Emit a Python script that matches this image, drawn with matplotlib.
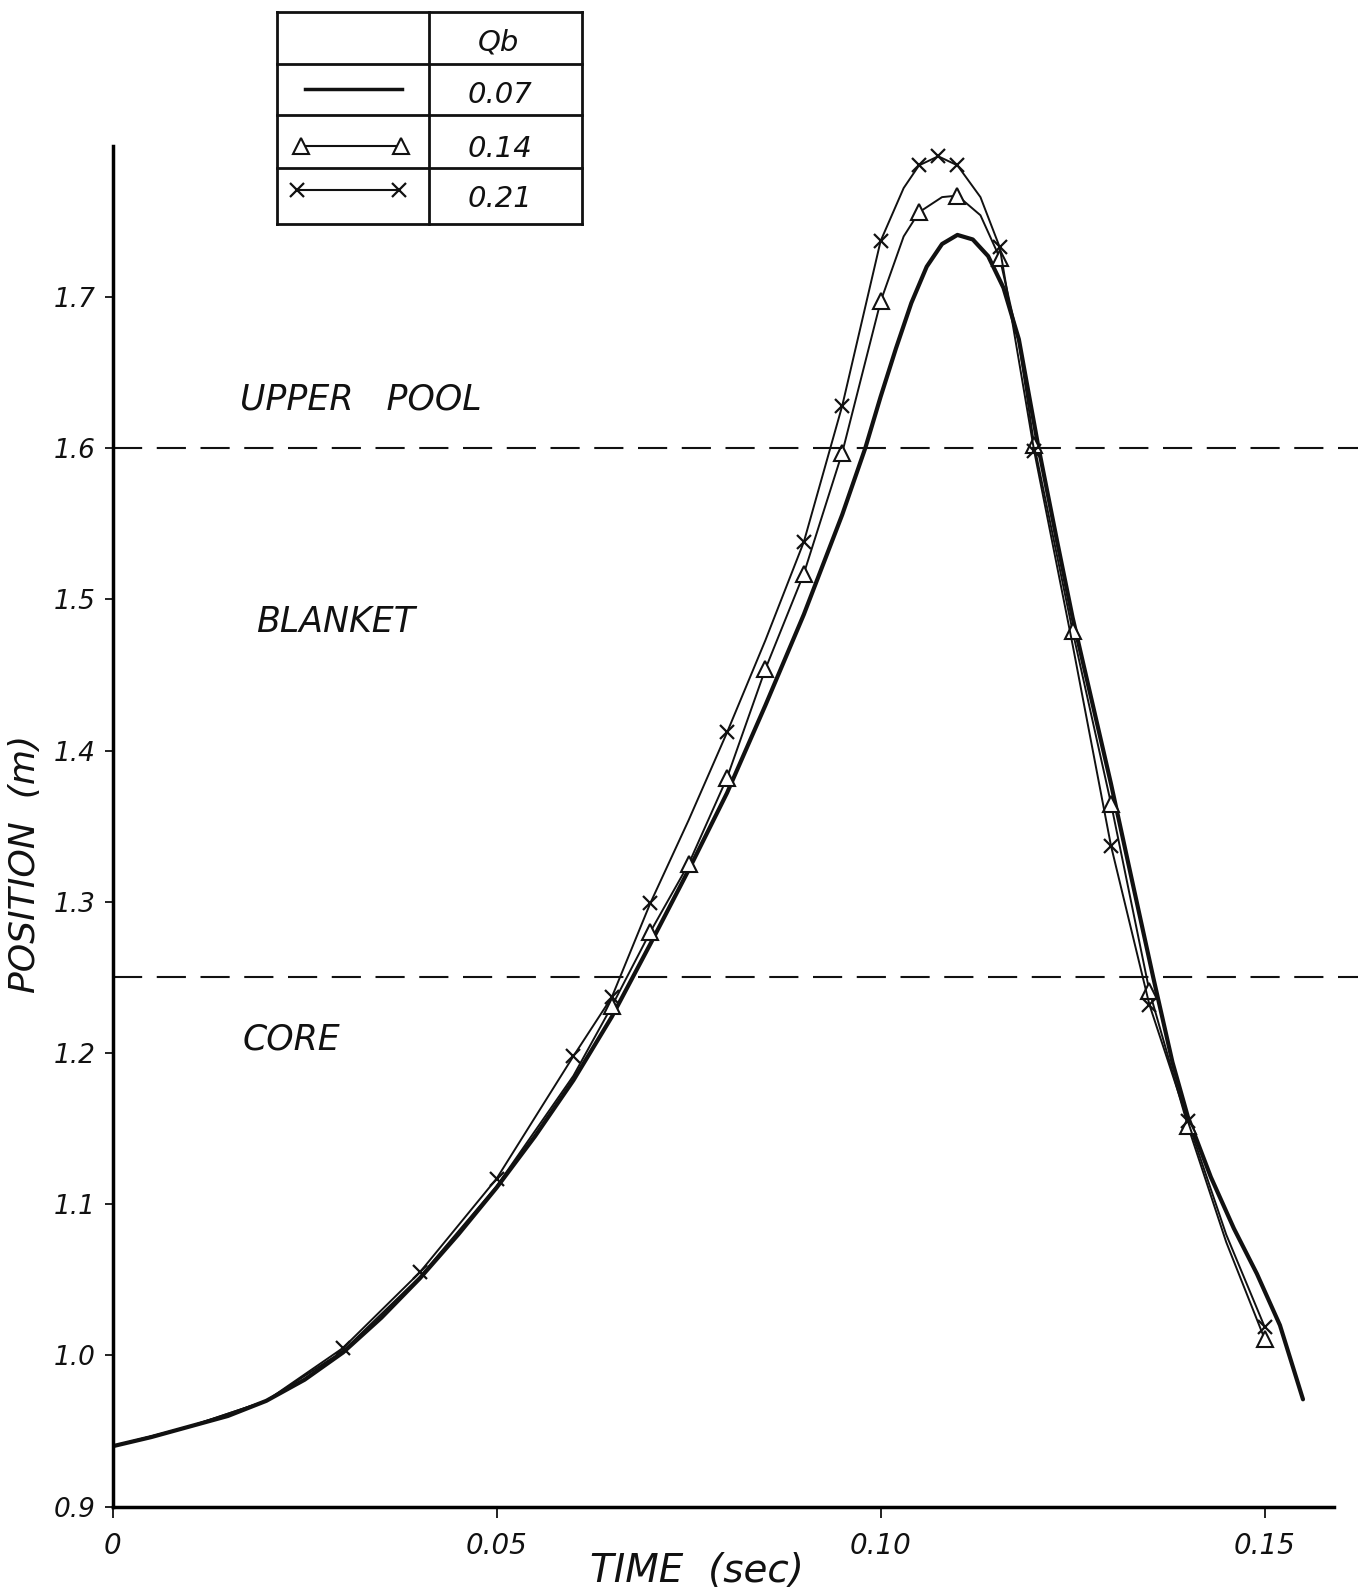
import numpy as np
import matplotlib
matplotlib.use("Agg")
import matplotlib.pyplot as plt

# values
qb_labels = ["0.07", "0.14", "0.21"]

# Qb = 0.07 (thick solid line, no markers)
t_solid = [0.0, 0.005, 0.010, 0.015, 0.020, 0.025, 0.030, 0.035, 0.040, 0.045,
           0.050, 0.055, 0.060, 0.065, 0.070, 0.075, 0.080, 0.085, 0.090, 0.095,
           0.098, 0.100, 0.102, 0.104, 0.106, 0.108, 0.110, 0.112, 0.114, 0.116,
           0.118, 0.1205, 0.123, 0.125, 0.128, 0.130, 0.133, 0.1355, 0.138, 0.140,
           0.143, 0.146, 0.149, 0.152, 0.155]
pos_solid = [0.940, 0.946, 0.953, 0.960, 0.970, 0.984, 1.002, 1.025, 1.051, 1.080,
             1.111, 1.145, 1.182, 1.224, 1.272, 1.321, 1.372, 1.430, 1.490, 1.556,
             1.600, 1.634, 1.666, 1.696, 1.720, 1.735, 1.741, 1.738, 1.727, 1.706,
             1.672, 1.602, 1.538, 1.488, 1.422, 1.378, 1.308, 1.250, 1.194, 1.158,
             1.118, 1.084, 1.054, 1.020, 0.971]

# Qb = 0.14 (triangles)
t_tri = [0.0, 0.010, 0.020, 0.030, 0.040, 0.050, 0.060, 0.065, 0.070, 0.075,
         0.080, 0.085, 0.090, 0.095, 0.100, 0.103, 0.105, 0.108, 0.110, 0.113,
         0.1155, 0.118, 0.120, 0.125, 0.130, 0.135, 0.140, 0.145, 0.150]
pos_tri = [0.940, 0.953, 0.970, 1.003, 1.052, 1.112, 1.185, 1.231, 1.280, 1.325,
           1.382, 1.454, 1.517, 1.597, 1.697, 1.740, 1.756, 1.766, 1.767, 1.754,
           1.726, 1.670, 1.602, 1.479, 1.365, 1.241, 1.152, 1.075, 1.011]
tri_marked = [0.065, 0.070, 0.075, 0.080, 0.085, 0.090, 0.095, 0.100, 0.105,
              0.110, 0.1155, 0.120, 0.125, 0.130, 0.135, 0.140, 0.150]

# Qb = 0.21 (crosses)
t_x = [0.0, 0.010, 0.020, 0.030, 0.040, 0.050, 0.060, 0.065, 0.070, 0.075,
       0.080, 0.085, 0.090, 0.095, 0.100, 0.103, 0.105, 0.1075, 0.110, 0.113,
       0.1155, 0.120, 0.125, 0.130, 0.135, 0.140, 0.145, 0.150]
pos_x = [0.940, 0.953, 0.970, 1.005, 1.055, 1.117, 1.198, 1.237, 1.299, 1.354,
         1.412, 1.473, 1.538, 1.628, 1.737, 1.772, 1.787, 1.793, 1.787, 1.766,
         1.733, 1.598, 1.470, 1.337, 1.232, 1.155, 1.080, 1.019]
x_marked = [0.030, 0.040, 0.050, 0.060, 0.065, 0.070, 0.080, 0.090, 0.095, 0.100,
            0.105, 0.1075, 0.110, 0.1155, 0.120, 0.130, 0.135, 0.140, 0.150]

xticks = [0.0, 0.05, 0.10, 0.15]
xtick_labels = ["0", "0.05", "0.10", "0.15"]
yticks = [0.9, 1.0, 1.1, 1.2, 1.3, 1.4, 1.5, 1.6, 1.7]
ytick_labels = ["0.9", "1.0", "1.1", "1.2", "1.3", "1.4", "1.5", "1.6", "1.7"]

boundaries = [1.6, 1.25]
regions = ["UPPER   POOL", "BLANKET", "CORE"]
region_pos = [(0.0323, 1.632), (0.029, 1.485), (0.0233, 1.209)]


def mark_idx(ts, marked):
    return [i for i, t in enumerate(ts) if np.any(np.isclose(t, marked))]


W, H = 1365, 1595
fig = plt.figure(figsize=(W / 100, H / 100), dpi=100)
fig.patch.set_facecolor("white")
ax = fig.add_axes([112.7 / W, (H - 1506.7) / H, 1221 / W, 1361 / H])
ax.set_xlim(0, 0.159)
ax.set_ylim(0.9, 1.8)
for s in ["top", "right"]:
    ax.spines[s].set_visible(False)
for s in ["left", "bottom"]:
    ax.spines[s].set_linewidth(2.5)

ink = "#111111"
ax.set_xticks(xticks, labels=xtick_labels, fontstyle="italic", fontsize=20)
ax.set_yticks(yticks, labels=ytick_labels, fontstyle="italic", fontsize=19)
ax.tick_params(axis="x", direction="out", length=8, width=1.3, pad=10,
               colors=ink)
ax.tick_params(axis="y", direction="out", length=6, width=1.3, pad=6,
               colors=ink)

ax.plot(t_solid, pos_solid, color=ink, lw=3.0, solid_capstyle="round",
        solid_joinstyle="round")
ax.plot(t_tri, pos_tri, color=ink, lw=1.4, solid_joinstyle="round",
        marker="^", mfc="white", mec=ink, ms=11, mew=1.5,
        markevery=mark_idx(t_tri, tri_marked))
ax.plot(t_x, pos_x, color=ink, lw=1.4, solid_joinstyle="round", marker="x",
        mec=ink, ms=10, mew=1.6, markevery=mark_idx(t_x, x_marked))

for b in boundaries:
    ax.axhline(b, xmin=0, xmax=1.02, color=ink, lw=1.5, dashes=(14, 7),
               clip_on=False)

for name, (tx, ty) in zip(regions, region_pos):
    ax.text(tx, ty, name, ha="center", va="center", fontsize=25,
            fontstyle="italic", color=ink)

ax.text(0.4786, -0.047, "TIME  (sec)", transform=ax.transAxes, ha="center",
        va="center", fontsize=28, fontstyle="italic", color=ink)
ax.text(-0.072, 0.472, "POSITION  (m)", transform=ax.transAxes, ha="center",
        va="center", rotation=90, fontsize=26, fontstyle="italic", color=ink)

# legend drawn as the little hand-ruled table at the top
lg = fig.add_axes([277 / W, 1 - 224 / H, 305 / W, 212 / H])
lg.set_xlim(277, 582)
lg.set_ylim(224, 12)
lg.axis("off")
for y in [12, 64, 115, 168, 224]:
    lg.plot([277, 582], [y, y], color=ink, lw=2, clip_on=False)
for x in [277, 429, 582]:
    lg.plot([x, x], [12, 224], color=ink, lw=2, clip_on=False)
lg.text(498, 42, "Qb", ha="center", va="center", fontsize=21,
        fontstyle="italic", color=ink)
row_y = [92, 146, 196]
for lab, y in zip(qb_labels, row_y):
    lg.text(500, y + 3, lab, ha="center", va="center", fontsize=21,
            fontstyle="italic", color=ink)
lg.plot([305, 402], [row_y[0] - 3, row_y[0] - 3], color=ink, lw=2.5)
lg.plot([301, 401], [row_y[1], row_y[1]], color=ink, lw=1.5, marker="^",
        mfc="white", mec=ink, ms=11, mew=1.5)
lg.plot([297, 399], [row_y[2] - 6, row_y[2] - 6], color=ink, lw=1.5,
        marker="x", mec=ink, ms=10, mew=1.6)

fig.savefig("out.png", dpi=100, facecolor="white")
